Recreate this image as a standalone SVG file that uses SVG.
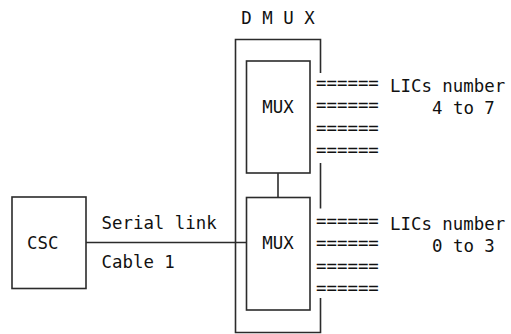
<svg xmlns="http://www.w3.org/2000/svg" width="511" height="334" viewBox="0 0 511 334">
<style>
  .box { fill: none; stroke: #2b2b2b; stroke-width: 1.6; }
  .ln { fill: none; stroke: #2b2b2b; stroke-width: 1.6; }
  text { font-family: "DejaVu Sans Mono", "Liberation Mono", monospace; font-size: 17.4px; fill: #111; }
  .mid { text-anchor: middle; }
</style>
<rect width="511" height="334" fill="#ffffff"/>
<g id="dmux">
  <text x="278" y="23.5" class="mid">D M U X</text>
  <path class="ln" d="M320.5,73 V39.5 H235.5 V332.5 H320.5 V298"/>
  <path class="ln" d="M320.5,163 V208.5"/>
</g>
<g id="mux-top">
  <rect class="box" x="246.5" y="61" width="63.5" height="112"/>
  <text x="278" y="113" class="mid">MUX</text>
</g>
<g id="mux-bottom">
  <rect class="box" x="246.5" y="197.5" width="63.5" height="112.5"/>
  <text x="278" y="249" class="mid">MUX</text>
</g>
<g id="csc">
  <rect class="box" x="12" y="197" width="74" height="91.5"/>
  <text x="27" y="249">CSC</text>
</g>
<g id="lics-4-7">
  <text x="316" y="89">======</text>
  <text x="316" y="111">======</text>
  <text x="316" y="134">======</text>
  <text x="316" y="156">======</text>
  <text x="390" y="92">LICs number</text>
  <text x="432" y="114">4 to 7</text>
</g>
<g id="lics-0-3">
  <text x="316" y="227">======</text>
  <text x="316" y="249">======</text>
  <text x="316" y="272">======</text>
  <text x="316" y="294">======</text>
  <text x="390" y="230">LICs number</text>
  <text x="432" y="252">0 to 3</text>
</g>
<g id="connectors">
  <path class="ln" d="M86,242.5 H246.5"/>
  <path class="ln" d="M278,173 V197.5"/>
  <text x="101.5" y="229">Serial link</text>
  <text x="101.5" y="268">Cable 1</text>
</g>
</svg>
